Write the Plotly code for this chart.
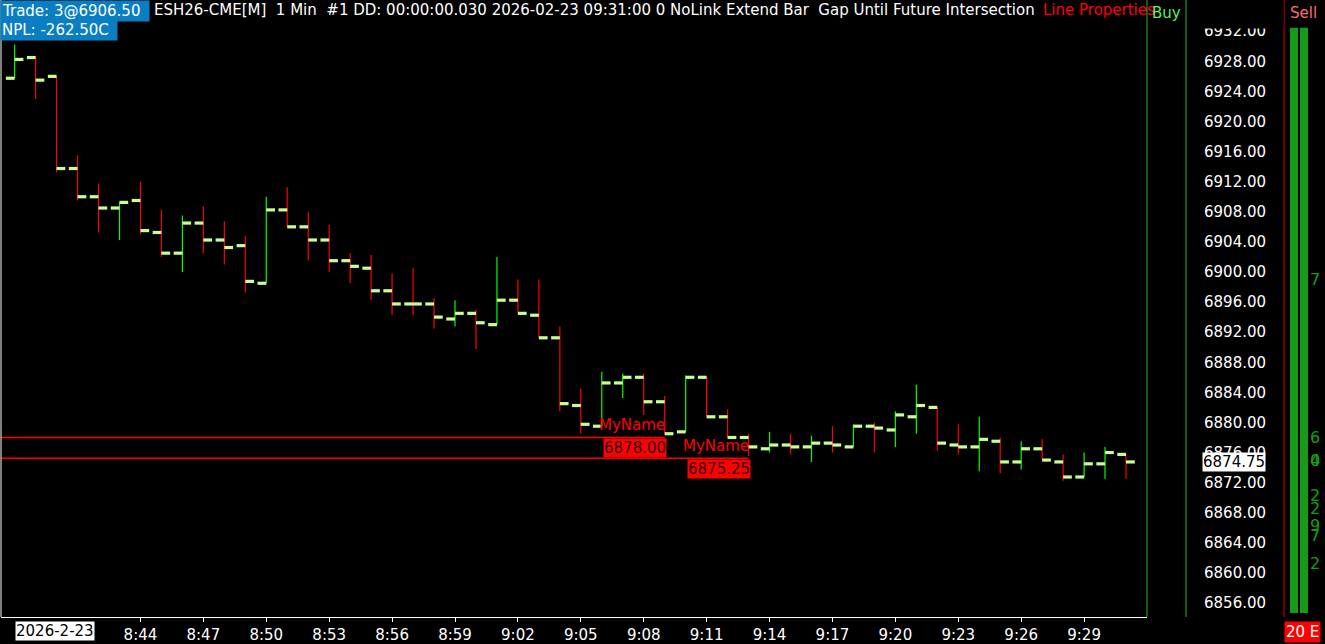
import plotly.graph_objects as go
import pandas as pd

# ---------------- data ----------------
session_date = "2026-02-23"
times = ["08:38", "08:39", "08:40", "08:41", "08:42", "08:43", "08:44", "08:45", "08:46", "08:47",
         "08:48", "08:49", "08:50", "08:51", "08:52", "08:53", "08:54", "08:55", "08:56", "08:57",
         "08:58", "08:59", "09:00", "09:01", "09:02", "09:03", "09:04", "09:05", "09:06", "09:07",
         "09:08", "09:09", "09:10", "09:11", "09:12", "09:13", "09:14", "09:15", "09:16", "09:17",
         "09:18", "09:19", "09:20", "09:21", "09:22", "09:23", "09:24", "09:25", "09:26", "09:27",
         "09:28", "09:29", "09:30", "09:31"]
opens = [6925.75, 6928.50, 6926.00, 6913.75, 6910.00, 6908.50, 6909.50, 6905.25, 6902.50, 6906.50,
         6904.25, 6903.50, 6898.50, 6908.25, 6906.00, 6904.25, 6901.50, 6900.50, 6897.50, 6895.75,
         6895.75, 6893.75, 6894.50, 6893.00, 6896.25, 6894.25, 6891.25, 6882.25, 6879.50, 6885.25,
         6886.00, 6882.75, 6878.75, 6886.00, 6880.75, 6878.00, 6876.50, 6877.00, 6876.75, 6877.25,
         6876.75, 6879.50, 6879.00, 6880.75, 6882.00, 6877.00, 6876.75, 6877.50, 6874.75, 6876.50,
         6874.75, 6872.75, 6874.50, 6875.75]
highs = [6930.25, 6928.75, 6926.00, 6915.50, 6911.75, 6909.25, 6912.00, 6908.25, 6907.50, 6908.75,
         6906.75, 6904.75, 6910.00, 6911.25, 6908.00, 6906.25, 6902.50, 6902.25, 6899.75, 6900.50,
         6896.50, 6896.25, 6895.00, 6902.00, 6899.00, 6899.00, 6892.75, 6884.50, 6886.75, 6886.50,
         6886.50, 6883.50, 6886.25, 6886.00, 6881.75, 6878.50, 6878.75, 6878.50, 6878.25, 6879.50,
         6879.75, 6880.00, 6881.50, 6885.00, 6882.00, 6879.75, 6880.75, 6878.00, 6877.50, 6877.75,
         6875.75, 6876.00, 6876.75, 6875.75]
lows = [6925.75, 6923.00, 6913.25, 6909.50, 6905.25, 6904.25, 6905.00, 6902.00, 6900.00, 6902.50,
        6901.00, 6897.25, 6898.50, 6906.00, 6901.50, 6900.00, 6898.50, 6896.25, 6894.25, 6894.25,
        6892.50, 6892.75, 6889.75, 6893.00, 6894.50, 6891.25, 6881.50, 6878.50, 6879.50, 6883.25,
        6881.00, 6878.50, 6878.75, 6880.75, 6878.00, 6875.50, 6876.00, 6875.75, 6874.75, 6876.00,
        6876.75, 6876.00, 6876.75, 6878.50, 6876.25, 6875.75, 6873.50, 6873.25, 6873.75, 6875.00,
        6872.25, 6872.75, 6872.50, 6872.50]
closes = [6928.25, 6925.50, 6913.75, 6910.00, 6908.50, 6909.25, 6905.50, 6902.50, 6906.50, 6904.25,
          6903.25, 6898.75, 6908.25, 6906.00, 6904.25, 6901.50, 6900.75, 6897.50, 6895.75, 6895.75,
          6894.00, 6894.50, 6893.25, 6896.25, 6894.50, 6891.25, 6882.50, 6879.75, 6885.25, 6886.00,
          6882.75, 6878.50, 6886.00, 6880.75, 6878.00, 6876.75, 6877.00, 6876.75, 6877.25, 6877.00,
          6879.50, 6879.25, 6881.00, 6882.25, 6877.25, 6876.75, 6877.75, 6874.75, 6876.50, 6875.00,
          6872.75, 6874.50, 6876.00, 6874.75]

time_tick_vals = ["08:44", "08:47", "08:50", "08:53", "08:56", "08:59", "09:02", "09:05", "09:08",
                  "09:11", "09:14", "09:17", "09:20", "09:23", "09:26", "09:29"]
time_tick_text = ["8:44", "8:47", "8:50", "8:53", "8:56", "8:59", "9:02", "9:05", "9:08",
                  "9:11", "9:14", "9:17", "9:20", "9:23", "9:26", "9:29"]
date_label = "2026-2-23"

line_prices = [6878.00, 6875.25]
line_ends = ["09:09", "09:13"]
line_names = ["MyName", "MyName"]

sell_prices = [6899.00, 6878.00, 6875.00, 6875.00, 6870.25, 6868.50, 6866.25, 6865.00, 6861.25]
sell_texts = ["7", "6", "0", "4", "2", "2", "9", "7", "2"]

last_price = 6874.75
header_trade = "Trade: 3@6906.50"
header_npl = "NPL: -262.50C"
header_info = "ESH26-CME[M]  1 Min  #1 DD: 00:00:00.030 2026-02-23 09:31:00 0 NoLink Extend Bar  Gap Until Future Intersection"
header_lineprops = "Line Properties"

# ---------------- geometry helpers ----------------
W, H = 1325, 644
ML, MR, MT, MB = 1, 178, 0, 24
PW = W - ML - MR
PH = H - MT - MB
FONT = "DejaVu Sans"


def px_x(p):
    return (p - ML) / PW


def px_y(p):
    return (H - MB - p) / PH


ts = [pd.Timestamp(f"{session_date} {t}") for t in times]
half = pd.Timedelta(seconds=25)

fig = go.Figure()

# vertical high-low lines
for up, color in [(True, "#00ff00"), (False, "#ff0000")]:
    xs, ys = [], []
    for t, o, h, l, c in zip(ts, opens, highs, lows, closes):
        if (c > o) == up:
            xs += [t, t, None]
            ys += [l, h, None]
    fig.add_trace(go.Scatter(x=xs, y=ys, mode="lines", line=dict(color=color, width=1.2),
                             hoverinfo="skip"))

# open / close ticks
xs, ys = [], []
for t, o, c in zip(ts, opens, closes):
    xs += [t - half, t, None, t, t + half, None]
    ys += [o, o, None, c, c, None]
fig.add_trace(go.Scatter(x=xs, y=ys, mode="lines", line=dict(color="#c8ff90", width=3.2),
                         hoverinfo="skip"))

x_start = pd.Timestamp(f"{session_date} 08:37:21")
x_end = pd.Timestamp(f"{session_date} 09:32:00")

shapes = []
annotations = []

# user horizontal lines with labels
for p, e, n in zip(line_prices, line_ends, line_names):
    te = pd.Timestamp(f"{session_date} {e}")
    shapes.append(dict(type="line", xref="x", yref="y", x0=x_start, x1=te, y0=p, y1=p,
                       line=dict(color="#ff0000", width=1.4)))
    annotations.append(dict(x=te, y=p, xref="x", yref="y", text=n, showarrow=False,
                            xanchor="right", yanchor="bottom", yshift=1, xshift=2,
                            font=dict(family=FONT, size=15, color="#ff0000")))
    annotations.append(dict(x=te, y=p, xref="x", yref="y", text=f"{p:.2f}", showarrow=False,
                            xanchor="right", yanchor="top", yshift=-1, xshift=2, bgcolor="#ff0000",
                            borderpad=0,
                            font=dict(family=FONT, size=15, color="#2a0000")))

# panel separators
shapes.append(dict(type="line", xref="paper", yref="paper", x0=0, x1=0, y0=0, y1=1,
                   line=dict(color="#ffffff", width=1)))
shapes.append(dict(type="line", xref="paper", yref="paper", x0=1, x1=1, y0=0, y1=px_y(0),
                   line=dict(color="#22b822", width=1)))
shapes.append(dict(type="line", xref="paper", yref="paper", x0=px_x(1186), x1=px_x(1186), y0=0,
                   y1=px_y(0), line=dict(color="#22b822", width=1)))
shapes.append(dict(type="line", xref="paper", yref="paper", x0=px_x(1284), x1=px_x(1284), y0=0,
                   y1=px_y(0), line=dict(color="#e00000", width=1)))
# sell column depth strips
for a, b in [(1290, 1298), (1300, 1308)]:
    shapes.append(dict(type="rect", xref="paper", yref="paper", x0=px_x(a), x1=px_x(b),
                       y0=px_y(616), y1=px_y(28), fillcolor="#179a17", line=dict(width=0),
                       layer="above"))

# clip top of price labels under header strip (annotation draws over tick labels)
annotations.append(dict(x=px_x(1188), y=px_y(0), xref="paper", yref="paper", text=" ",
                        showarrow=False, xanchor="left", yanchor="top", width=94, height=27,
                        bgcolor="#000000", borderpad=0, font=dict(family=FONT, size=10)))

# sell column numbers
for p, s in zip(sell_prices, sell_texts):
    annotations.append(dict(x=px_x(1308), y=p, xref="paper", yref="y", text=s, showarrow=False,
                            xanchor="left", yanchor="middle",
                            font=dict(family=FONT, size=16, color="#14a014")))

# header texts
annotations.append(dict(x=px_x(0), y=px_y(0), xref="paper", yref="paper", text=header_trade,
                        showarrow=False, xanchor="left", yanchor="top", bgcolor="#0a7ec2",
                        width=146, align="left", borderpad=1,
                        font=dict(family=FONT, size=15, color="#ffffff")))
annotations.append(dict(x=px_x(0), y=px_y(19), xref="paper", yref="paper", text=header_npl,
                        showarrow=False, xanchor="left", yanchor="top", bgcolor="#0a7ec2",
                        width=114, align="left", borderpad=1,
                        font=dict(family=FONT, size=15, color="#ffffff")))
annotations.append(dict(x=px_x(153), y=px_y(0), xref="paper", yref="paper", text=header_info,
                        showarrow=False, xanchor="left", yanchor="top", borderpad=0,
                        font=dict(family=FONT, size=15, color="#ffffff")))
annotations.append(dict(x=px_x(1042), y=px_y(0), xref="paper", yref="paper", text=header_lineprops,
                        showarrow=False, xanchor="left", yanchor="top", borderpad=0,
                        font=dict(family=FONT, size=15, color="#ff0000")))
annotations.append(dict(x=px_x(1151), y=px_y(3), xref="paper", yref="paper", text="Buy",
                        showarrow=False, xanchor="left", yanchor="top", borderpad=0,
                        font=dict(family=FONT, size=15, color="#5cf05c")))
annotations.append(dict(x=px_x(1289), y=px_y(3), xref="paper", yref="paper", text="Sell",
                        showarrow=False, xanchor="left", yanchor="top", borderpad=0,
                        font=dict(family=FONT, size=15, color="#ff6b6b")))
annotations.append(dict(x=px_x(1284), y=px_y(624), xref="paper", yref="paper", text="20 E",
                        showarrow=False, xanchor="left", yanchor="top", bgcolor="#ff0000",
                        borderpad=1, font=dict(family=FONT, size=15, color="#ffffff")))
annotations.append(dict(x=ts[0], y=px_y(624), xref="x", yref="paper", text=date_label,
                        showarrow=False, xanchor="left", yanchor="top", bgcolor="#ffffff",
                        borderpad=0, font=dict(family=FONT, size=15, color="#000000")))
annotations.append(dict(x=px_x(1202), y=last_price, xref="paper", yref="y", text=f"{last_price:.2f}",
                        showarrow=False, xanchor="left", yanchor="middle", bgcolor="#ffffff",
                        borderpad=0, font=dict(family=FONT, size=15, color="#000000")))

fig.update_layout(
    width=W, height=H,
    margin=dict(l=ML, r=MR, t=MT, b=MB, pad=0),
    paper_bgcolor="#000000", plot_bgcolor="#000000",
    showlegend=False,
    shapes=shapes, annotations=annotations,
    xaxis=dict(type="date", range=[x_start, x_end],
               tickvals=[pd.Timestamp(f"{session_date} {t}") for t in time_tick_vals],
               ticktext=time_tick_text, ticks="outside", ticklen=4, tickcolor="#ffffff",
               tickfont=dict(family=FONT, size=15, color="#ffffff"),
               showline=True, linecolor="#ffffff", linewidth=1, showgrid=False, zeroline=False,
               fixedrange=True),
    yaxis=dict(side="right", range=[6854.14, 6936.15], tick0=6856, dtick=4, tickformat=".2f",
               ticks="", ticklabelstandoff=56,
               tickfont=dict(family=FONT, size=15, color="#ffffff"),
               showgrid=False, zeroline=False, showline=False, fixedrange=True),
)

fig.write_html("out.html", config={"displayModeBar": False},
               post_script="document.body.style.margin='0px';document.body.style.overflow='hidden';"
                           "document.body.style.background='#000';")
